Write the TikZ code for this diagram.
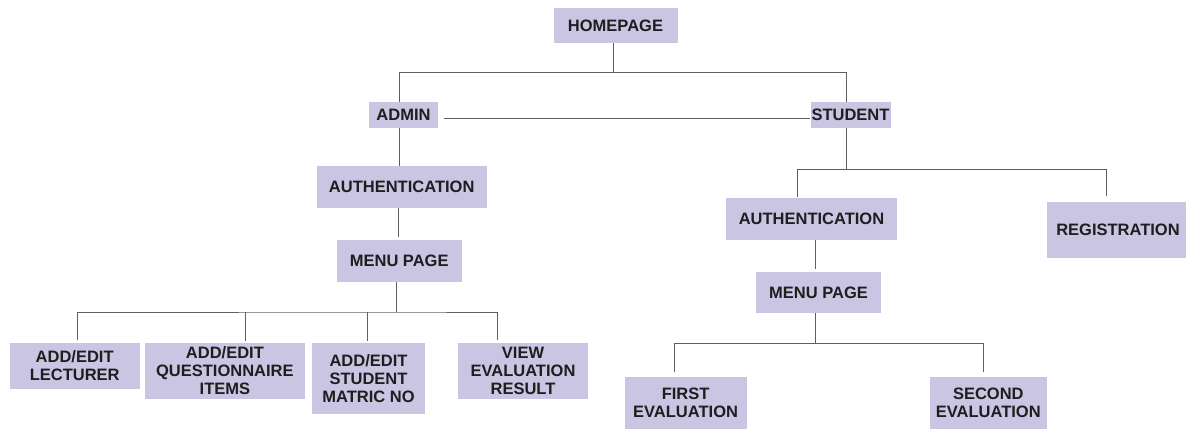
\documentclass[tikz,border=0pt]{standalone}
\usepackage{fontspec}
\setmainfont{Liberation Sans}
\definecolor{boxfill}{RGB}{201,197,226}
\definecolor{linec}{RGB}{95,95,95}
\definecolor{txt}{RGB}{30,30,30}
\begin{document}
\begin{tikzpicture}[x=1pt,y=-1pt,
  box/.style={draw=none, fill=boxfill, inner sep=0pt, align=center, text=txt,
              font=\fontsize{16.5}{18}\selectfont\bfseries},
  conn/.style={draw=linec, line width=0.9pt}]
\useasboundingbox (0,0) rectangle (1186,429);
% nodes
\node[box,minimum width=124pt,minimum height=35pt] (home) at (615.5,25.5) {HOMEPAGE};
\node[box,minimum width=69pt,minimum height=26pt] (admin) at (403.5,115) {ADMIN};
\node[box,minimum width=80pt,minimum height=26pt] (student) at (850.5,115) {STUDENT};
\node[box,minimum width=170pt,minimum height=42pt] (authA) at (401.7,187) {AUTHENTICATION};
\node[box,minimum width=125pt,minimum height=42pt] (menuA) at (399.2,260.8) {MENU PAGE};
\node[box,minimum width=130pt,minimum height=46pt] (lect) at (74.7,366) {ADD/EDIT\\LECTURER};
\node[box,minimum width=160pt,minimum height=56pt] (quest) at (224.9,371) {ADD/EDIT\\QUESTIONNAIRE\\ITEMS};
\node[box,minimum width=113pt,minimum height=71pt] (matric) at (368.5,378.5) {ADD/EDIT\\STUDENT\\MATRIC NO};
\node[box,minimum width=130pt,minimum height=56pt] (view) at (523,371) {VIEW\\EVALUATION\\RESULT};
\node[box,minimum width=171pt,minimum height=42pt] (authS) at (811.5,219) {AUTHENTICATION};
\node[box,minimum width=143pt,minimum height=56pt] (reg) at (1118,229.5) {REGISTRATION};
\node[box,minimum width=125pt,minimum height=41pt] (menuS) at (818.5,292.5) {MENU PAGE};
\node[box,minimum width=122pt,minimum height=52pt] (first) at (685.6,402.7) {FIRST\\EVALUATION};
\node[box,minimum width=117pt,minimum height=52pt] (second) at (988.3,402.7) {SECOND\\EVALUATION};
% connectors
\draw[conn] ([xshift=-2pt]home.south) -- ++(0,29) coordinate (hb);
\draw[conn] ([xshift=-4pt]admin.north) |- (hb) -| ([xshift=-4.5pt]student.north);
\draw[conn] ([xshift=6pt,yshift=-3pt]admin.east) -- ([yshift=-3pt]student.west);
\draw[conn] ([xshift=-4pt]admin.south) -- ([xshift=-4pt]admin.south |- authA.north);
\draw[conn] ([xshift=-3.5pt]authA.south) -- ([xshift=-3.5pt,yshift=3pt]authA.south |- menuA.north);
\draw[conn] ([xshift=-2.5pt]menuA.south) -- ++(0,30) coordinate (ma);
\draw[conn] ([xshift=3pt,yshift=3pt]lect.north) |- (ma) -| ([xshift=-25.5pt,yshift=3pt]view.north);
\draw[conn] ([xshift=21pt,yshift=2pt]quest.north) -- ([xshift=21pt]quest.north |- ma);
\draw[conn] ([xshift=-1pt,yshift=2pt]matric.north) -- ([xshift=-1pt]matric.north |- ma);
\draw[conn] ([xshift=-4.5pt]student.south) -- ++(0,41) coordinate (sb);
\draw[conn] ([xshift=-14.5pt,yshift=1pt]authS.north) |- (sb) -| ([xshift=-12pt,yshift=5pt]reg.north);
\draw[conn] ([xshift=4pt]authS.south) -- ([xshift=4pt,yshift=3pt]authS.south |- menuS.north);
\draw[conn] ([xshift=-3pt]menuS.south) -- ++(0,30) coordinate (mb);
\draw[conn] ([xshift=-11pt,yshift=5pt]first.north) |- (mb) -| ([xshift=-5.3pt,yshift=5pt]second.north);
\end{tikzpicture}
\end{document}
